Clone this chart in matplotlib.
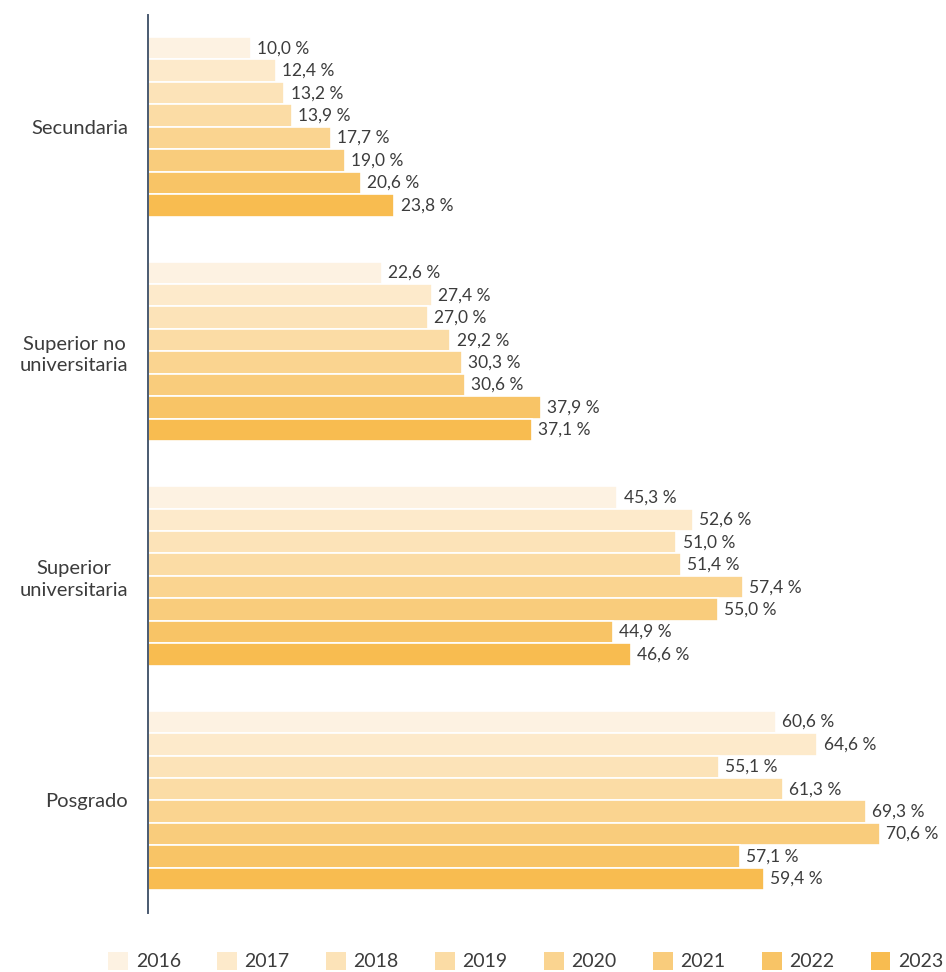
import numpy as np
import matplotlib.pyplot as plt
from matplotlib.patches import Patch

categories = ['Secundaria', 'Superior no\nuniversitaria', 'Superior\nuniversitaria', 'Posgrado']
years = ['2016', '2017', '2018', '2019', '2020', '2021', '2022', '2023']
v2016 = [10.0, 22.6, 45.3, 60.6]
v2017 = [12.4, 27.4, 52.6, 64.6]
v2018 = [13.2, 27.0, 51.0, 55.1]
v2019 = [13.9, 29.2, 51.4, 61.3]
v2020 = [17.7, 30.3, 57.4, 69.3]
v2021 = [19.0, 30.6, 55.0, 70.6]
v2022 = [20.6, 37.9, 44.9, 57.1]
v2023 = [23.8, 37.1, 46.6, 59.4]
series = [v2016, v2017, v2018, v2019, v2020, v2021, v2022, v2023]
colors = ['#FDF2E2', '#FDEACB', '#FCE3B8', '#FBDCA5', '#FAD490', '#F9CC7C', '#F8C466', '#F8BC50']

plt.rcParams['font.family'] = ['Lato', 'DejaVu Sans']
txt = '#3c3c3c'

fig = plt.figure(figsize=(9.46, 9.72), dpi=100)
ax = fig.add_axes([0.156, 0.061, 0.844, 0.924])

h = 0.1
y0 = np.arange(len(categories))
for j, (vals, col) in enumerate(zip(series, colors)):
    ys = y0 - 0.35 + j * h
    ax.barh(ys, vals, height=h, color=col, edgecolor='white', linewidth=1.2)
    for y, v in zip(ys, vals):
        ax.text(v + 0.6, y, f'{v:.1f}'.replace('.', ',') + ' %', va='center', ha='left',
                fontsize=12.5, color=txt)

ax.set_ylim(3.5, -0.5)
ax.set_xlim(0, 77.0)
ax.set_yticks(y0)
ax.set_yticklabels(categories, fontsize=14.5, color=txt, multialignment='center',
                   linespacing=1.3)
ax.tick_params(axis='y', length=0, pad=14)
ax.set_xticks([])
for s in ['top', 'right', 'bottom']:
    ax.spines[s].set_visible(False)
ax.spines['left'].set_color('#4a5a70')
ax.spines['left'].set_linewidth(1.4)

handles = [Patch(facecolor=c, edgecolor='none') for c in colors]
fig.legend(handles, years, loc='center', bbox_to_anchor=(0.556, 0.011), ncol=8,
           frameon=False, fontsize=14, handlelength=1.0, handleheight=1.0,
           handletextpad=0.4, columnspacing=1.88, labelcolor=txt)

fig.savefig('out.png', dpi=100)
